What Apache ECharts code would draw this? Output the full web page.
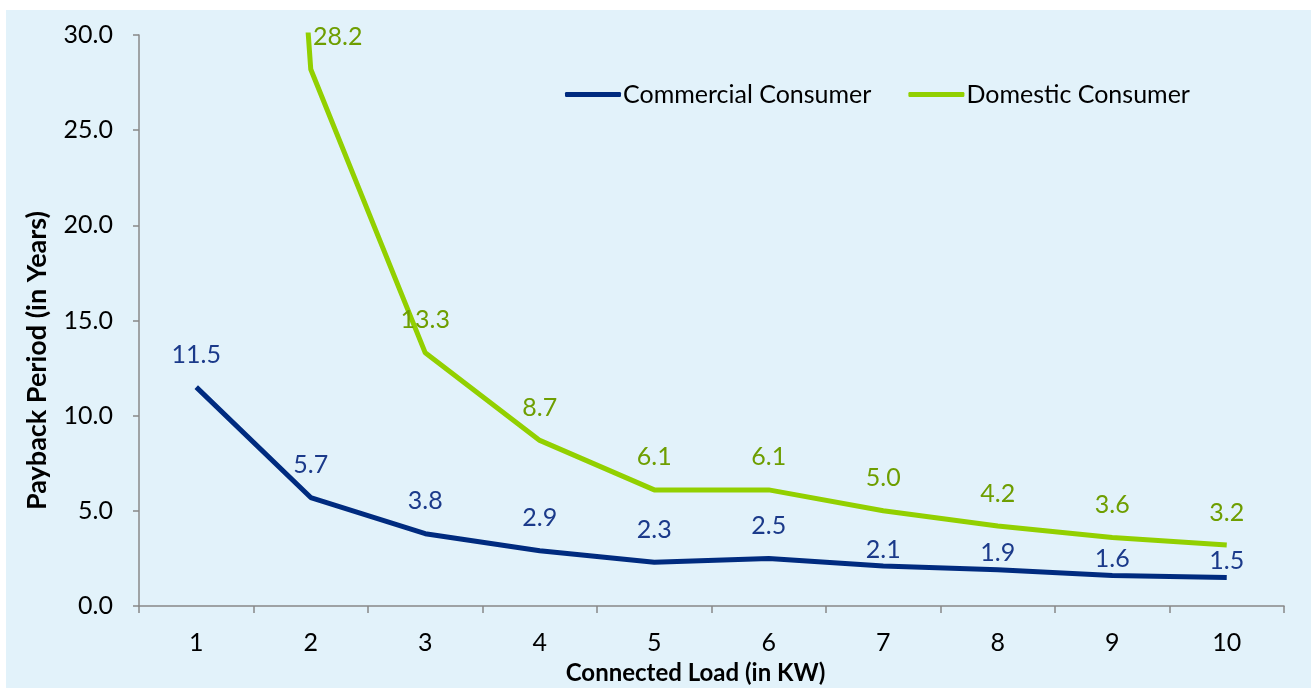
<!DOCTYPE html>
<html><head><meta charset="utf-8">
<script src="https://cdn.jsdelivr.net/npm/echarts@6/dist/echarts.min.js"></script>
<style>html,body{margin:0;padding:0;background:#fff;}#bg{position:absolute;left:6px;top:10px;width:1305px;height:678px;background:#E2F2FA;}#c{position:absolute;left:0;top:0;width:1311px;height:688px;}</style>
</head><body><div id="bg"></div><div id="c"></div>
<script>
const categories = ['1','2','3','4','5','6','7','8','9','10'];
const commercial = [11.5, 5.7, 3.8, 2.9, 2.3, 2.5, 2.1, 1.9, 1.6, 1.5];
const domestic = [113, 28.2, 13.3, 8.7, 6.1, 6.1, 5.0, 4.2, 3.6, 3.2];
const yTicks = [0, 5, 10, 15, 20, 25, 30];

const FONT = 'Lato';
const chart = echarts.init(document.getElementById('c'));
const commData = commercial.map((v, i) => {
  const d = { value: v };
  if (i >= 6) d.label = { offset: [0, 16] };
  return d;
});
const domData = domestic.map((v, i) => {
  const d = { value: v };
  if (i === 0) d.label = { show: false };
  if (i === 1) d.label = { offset: [27, 0] };
  return d;
});
chart.setOption({
  backgroundColor: 'transparent',
  animation: false,
  textStyle: { fontFamily: FONT },
  grid: { left: 139, right: 27, top: 35, bottom: 82, containLabel: false, outerBoundsMode: 'none' },
  legend: {
    top: 77, left: 560,
    itemWidth: 56, itemHeight: 5, itemGap: 37,
    icon: 'roundRect',
    textStyle: { fontSize: 25, color: '#000', fontFamily: FONT, padding: [0, 0, 0, -3] },
    data: ['Commercial Consumer', 'Domestic Consumer']
  },
  xAxis: {
    type: 'category', data: categories, boundaryGap: true,
    name: 'Connected Load (in KW)', nameLocation: 'middle', nameGap: 55,
    nameTextStyle: { fontSize: 24, fontWeight: 'bold', color: '#000', fontFamily: FONT, padding: [0, 32, 0, 0] },
    axisLine: { lineStyle: { color: '#888', width: 1.5 } },
    axisTick: { show: true, length: 7, lineStyle: { color: '#888', width: 1.5 }, alignWithLabel: false },
    axisLabel: { fontSize: 25, color: '#000', margin: 24, fontFamily: FONT }
  },
  yAxis: {
    type: 'value', min: yTicks[0], max: yTicks[yTicks.length - 1], interval: 5,
    name: 'Payback Period (in Years)', nameLocation: 'middle', nameGap: 88, nameRotate: 90,
    nameTextStyle: { fontSize: 27, fontWeight: 'bold', color: '#000', fontFamily: FONT, padding: [0, 80, 0, 0] },
    axisLine: { show: true, lineStyle: { color: '#888', width: 1.5 } },
    axisTick: { show: true, length: 6, lineStyle: { color: '#888', width: 1.5 } },
    splitLine: { show: false },
    axisLabel: { fontSize: 25, color: '#000', margin: 26, fontFamily: FONT, formatter: v => v.toFixed(1) }
  },
  series: [
    {
      name: 'Commercial Consumer', type: 'line', data: commData,
      symbol: 'circle', symbolSize: 0, showSymbol: true,
      lineStyle: { color: '#002B7F', width: 5 }, itemStyle: { color: '#002B7F' },
      label: { show: true, position: 'top', distance: 20, fontSize: 25, color: '#1B3A8A', fontFamily: FONT, formatter: p => p.value.toFixed(1) },
      clip: true
    },
    {
      name: 'Domestic Consumer', type: 'line', data: domData,
      symbol: 'circle', symbolSize: 0, showSymbol: true,
      lineStyle: { color: '#92D000', width: 5 }, itemStyle: { color: '#92D000' },
      label: { show: true, position: 'top', distance: 20, fontSize: 25, color: '#6E9E00', fontFamily: FONT, formatter: p => p.value.toFixed(1) },
      clip: true
    }
  ]
});
</script></body></html>
